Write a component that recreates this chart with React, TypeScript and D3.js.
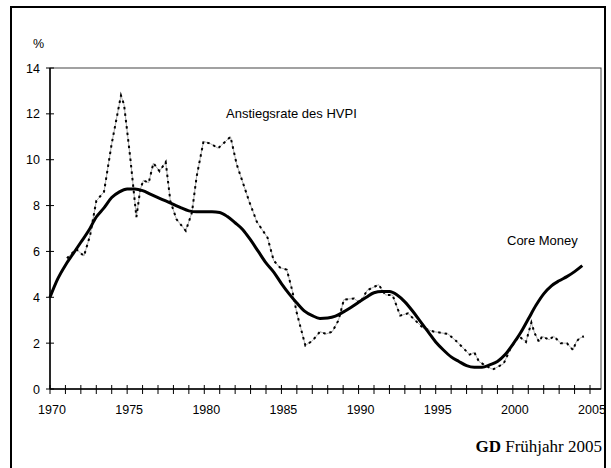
import { useEffect, useRef } from "react"
import * as d3 from "d3"

// Core Money, half-year steps
const coreYears = [
	1970.0, 1970.5, 1971.0, 1971.5, 1972.0, 1972.5, 1973.0, 1973.5, 1974.0, 1974.5,
	1975.0, 1975.5, 1976.0, 1976.5, 1977.0, 1977.5, 1978.0, 1978.5, 1979.0, 1979.5,
	1980.0, 1980.5, 1981.0, 1981.5, 1982.0, 1982.5, 1983.0, 1983.5, 1984.0, 1984.5,
	1985.0, 1985.5, 1986.0, 1986.5, 1987.0, 1987.5, 1988.0, 1988.5, 1989.0, 1989.5,
	1990.0, 1990.5, 1991.0, 1991.5, 1992.0, 1992.5, 1993.0, 1993.5, 1994.0, 1994.5,
	1995.0, 1995.5, 1996.0, 1996.5, 1997.0, 1997.5, 1998.0, 1998.5, 1999.0, 1999.5,
	2000.0, 2000.5, 2001.0, 2001.5, 2002.0, 2002.5, 2003.0, 2003.5, 2004.0, 2004.5,
]
const coreValues = [
	4.0, 4.8, 5.4, 5.9, 6.4, 6.9, 7.5, 7.9, 8.35, 8.6,
	8.72, 8.72, 8.65, 8.5, 8.35, 8.2, 8.05, 7.9, 7.77, 7.73,
	7.73, 7.73, 7.7, 7.52, 7.25, 6.95, 6.5, 6.0, 5.5, 5.1,
	4.6, 4.15, 3.75, 3.4, 3.2, 3.08, 3.1, 3.18, 3.35, 3.55,
	3.78, 4.0, 4.2, 4.25, 4.25, 4.1, 3.8, 3.4, 2.95, 2.5,
	2.05, 1.7, 1.4, 1.2, 1.02, 0.95, 0.95, 1.05, 1.2, 1.5,
	1.95, 2.45, 3.05, 3.65, 4.15, 4.5, 4.72, 4.9, 5.12, 5.38,
]

// Anstiegsrate des HVPI
const hvpiYears = [
	1971.1, 1971.7, 1972.2, 1972.6, 1973.0, 1973.5, 1974.0, 1974.6, 1974.8, 1975.2,
	1975.4, 1975.6, 1975.85, 1976.05, 1976.4, 1976.7, 1977.1, 1977.5, 1977.8, 1978.2,
	1978.8, 1979.2, 1979.5, 1979.95, 1980.4, 1980.9, 1981.7, 1982.1, 1982.9, 1983.4,
	1984.1, 1984.5, 1984.9, 1985.35, 1985.7, 1986.0, 1986.55, 1987.0, 1987.5, 1987.9,
	1988.3, 1988.7, 1989.05, 1989.7, 1990.1, 1990.55, 1991.3, 1991.75, 1992.2, 1992.7,
	1993.2, 1994.2, 1994.9, 1995.8, 1996.4, 1997.2, 1997.5, 1997.8, 1998.15, 1998.7,
	1999.4, 1999.9, 2000.4, 2000.85, 2001.2, 2001.4, 2001.7, 2001.9, 2002.35, 2002.65,
	2003.1, 2003.5, 2003.9, 2004.1, 2004.3, 2004.6,
]
const hvpiValues = [
	5.7, 6.1, 5.8, 6.7, 8.2, 8.6, 10.7, 12.8, 12.4, 10.1,
	8.8, 7.5, 8.7, 9.1, 9.0, 9.85, 9.5, 9.9, 8.2, 7.4,
	6.9, 7.7, 9.25, 10.8, 10.7, 10.5, 11.0, 9.8, 8.2, 7.3,
	6.6, 5.6, 5.3, 5.2, 4.3, 3.3, 1.9, 2.1, 2.5, 2.4,
	2.5, 3.0, 3.9, 3.95, 3.75, 4.3, 4.55, 4.1, 4.1, 3.2,
	3.3, 2.65, 2.5, 2.4, 2.05, 1.5, 1.6, 1.2, 1.05, 0.85,
	1.1, 1.85, 2.3, 2.05, 2.9, 2.45, 2.05, 2.3, 2.15, 2.3,
	2.0, 2.0, 1.7, 2.05, 2.2, 2.3,
]

const yTicks = [0, 2, 4, 6, 8, 10, 12, 14]
const xLabelYears = [1970, 1975, 1980, 1985, 1990, 1995, 2000, 2005]

const font = "'Liberation Sans', Arial, sans-serif"

function App() {
	const ref = useRef<SVGSVGElement>(null)

	useEffect(() => {
		const svg = d3.select(ref.current)
		svg.selectAll("*").remove()

		const x = d3.scaleLinear().domain([1970, 2005]).range([50, 590])
		const y = d3.scaleLinear().domain([0, 14]).range([389, 68])

		// outer frame
		svg
			.append("rect")
			.attr("x", 11)
			.attr("y", 7)
			.attr("width", 594)
			.attr("height", 470)
			.attr("fill", "none")
			.attr("stroke", "#000")
			.attr("stroke-width", 2)

		// plot area
		svg
			.append("rect")
			.attr("x", 50)
			.attr("y", 68)
			.attr("width", 551)
			.attr("height", 321)
			.attr("fill", "none")
			.attr("stroke", "#444")
			.attr("stroke-width", 1)

		// y axis
		svg.append("line").attr("x1", 50).attr("x2", 50).attr("y1", 68).attr("y2", 389).attr("stroke", "#000").attr("stroke-width", 1.5)
		const yg = svg.append("g")
		yg.selectAll("line")
			.data(yTicks)
			.enter()
			.append("line")
			.attr("x1", 46)
			.attr("x2", 54)
			.attr("y1", (d) => y(d))
			.attr("y2", (d) => y(d))
			.attr("stroke", "#000")
		yg.selectAll("text")
			.data(yTicks)
			.enter()
			.append("text")
			.attr("x", 40)
			.attr("y", (d) => y(d) + 4.5)
			.attr("text-anchor", "end")
			.attr("font-family", font)
			.attr("font-size", 12.5)
			.text((d) => d)

		svg.append("text").attr("x", 33).attr("y", 48).attr("font-family", font).attr("font-size", 12.5).text("%")

		// x axis
		svg.append("line").attr("x1", 50).attr("x2", 601).attr("y1", 389).attr("y2", 389).attr("stroke", "#000").attr("stroke-width", 1.5)
		const xg = svg.append("g")
		xg.selectAll("line")
			.data(d3.range(1970, 2006))
			.enter()
			.append("line")
			.attr("x1", (d) => x(d))
			.attr("x2", (d) => x(d))
			.attr("y1", 385)
			.attr("y2", 394)
			.attr("stroke", "#000")
		xg.selectAll("text")
			.data(xLabelYears)
			.enter()
			.append("text")
			.attr("x", (d) => x(d) + 2)
			.attr("y", 414)
			.attr("text-anchor", "middle")
			.attr("font-family", font)
			.attr("font-size", 12.5)
			.text((d) => d)

		// HVPI line: thin grey connection plus black dots
		const hvpi = hvpiYears.map((yr, i) => [yr, hvpiValues[i]] as [number, number])
		const hvpiLine = d3
			.line<[number, number]>()
			.x((d) => x(d[0]))
			.y((d) => y(d[1]))
		svg.append("path").attr("d", hvpiLine(hvpi)).attr("fill", "none").attr("stroke", "#888").attr("stroke-width", 0.7)
		svg
			.append("path")
			.attr("d", hvpiLine(hvpi))
			.attr("fill", "none")
			.attr("stroke", "#000")
			.attr("stroke-width", 2)
			.attr("stroke-dasharray", "2.5 4")

		// Core Money
		const core = coreYears.map((yr, i) => [yr, coreValues[i]] as [number, number])
		const coreLine = d3
			.line<[number, number]>()
			.x((d) => x(d[0]))
			.y((d) => y(d[1]))
			.curve(d3.curveMonotoneX)
		svg
			.append("path")
			.attr("d", coreLine(core))
			.attr("fill", "none")
			.attr("stroke", "#000")
			.attr("stroke-width", 3)
			.attr("stroke-linejoin", "round")

		svg.append("text").attr("x", 226).attr("y", 118).attr("font-family", font).attr("font-size", 13).text("Anstiegsrate des HVPI")
		svg.append("text").attr("x", 507).attr("y", 245).attr("font-family", font).attr("font-size", 13).text("Core Money")

		const src = svg
			.append("text")
			.attr("x", 602)
			.attr("y", 452)
			.attr("text-anchor", "end")
			.attr("font-family", "'Liberation Serif', 'Times New Roman', serif")
			.attr("font-size", 17)
		src.append("tspan").attr("font-weight", "bold").text("GD")
		src.append("tspan").text(" Frühjahr 2005")
	}, [])

	return (
		<svg ref={ref} width={611} height={468} style={{ position: "absolute", left: 0, top: 0 }}></svg>
	)
}

export default App
